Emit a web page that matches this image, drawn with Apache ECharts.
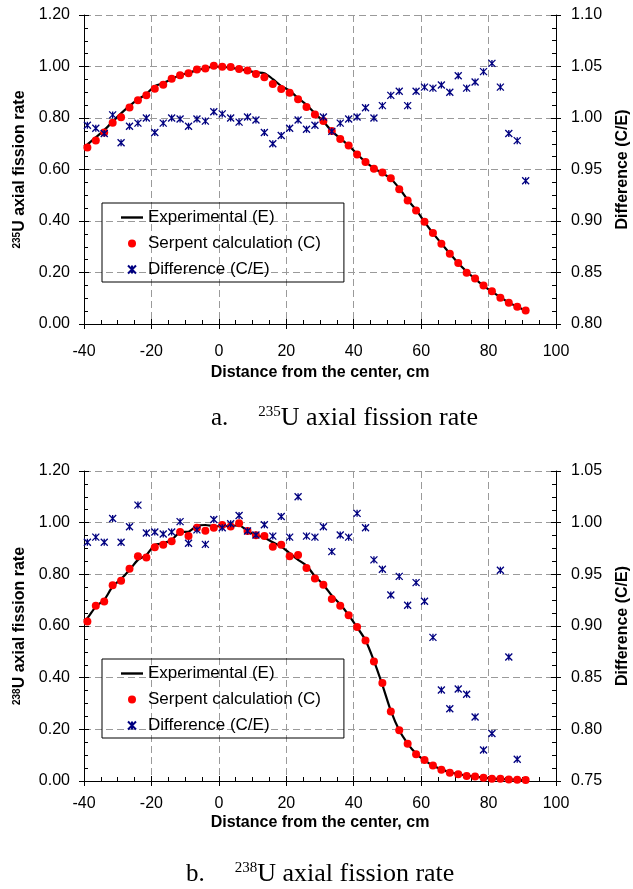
<!DOCTYPE html>
<html>
<head>
<meta charset="utf-8">
<script src="https://cdn.jsdelivr.net/npm/echarts@6/dist/echarts.min.js"></script>
<style>
  html, body { margin: 0; padding: 0; background: #fff; }
  #chart { width: 633px; height: 889px; }
</style>
</head>
<body>
<div id="chart"></div>
<script>
// positions of the calculated points (cm)
const calcX = [
  -39, -36.5, -34, -31.5, -29, -26.5, -24, -21.5, -19, -16.5,
  -14, -11.5, -9, -6.5, -4, -1.5, 1, 3.5, 6, 8.5,
  11, 13.5, 16, 18.5, 21, 23.5, 26, 28.5, 31, 33.5,
  36, 38.5, 41, 43.5, 46, 48.5, 51, 53.5, 56, 58.5,
  61, 63.5, 66, 68.5, 71, 73.5, 76, 78.5, 81, 83.5,
  86, 88.5, 91
];
// experimental curve sampled at the same points plus the -40 start
const expX = [-40].concat(calcX);

// U-235
const u235Exp = [
  0.689, 0.697, 0.725, 0.753, 0.786, 0.818, 0.847, 0.872, 0.893, 0.924,
  0.935, 0.951, 0.967, 0.975, 0.986, 0.993, 0.999, 0.999, 0.995, 0.990,
  0.984, 0.977, 0.974, 0.951, 0.924, 0.906, 0.877, 0.851, 0.818, 0.786,
  0.749, 0.721, 0.693, 0.660, 0.629, 0.605, 0.586, 0.564, 0.527, 0.482,
  0.443, 0.397, 0.353, 0.313, 0.274, 0.236, 0.204, 0.175, 0.148, 0.126,
  0.104, 0.083, 0.067, 0.052
];
const u235Calc = [
  0.685, 0.713, 0.744, 0.782, 0.803, 0.841, 0.869, 0.888, 0.914, 0.929,
  0.952, 0.966, 0.974, 0.988, 0.992, 1.003, 0.999, 0.998, 0.990, 0.984,
  0.971, 0.958, 0.932, 0.913, 0.898, 0.873, 0.843, 0.814, 0.788, 0.750,
  0.718, 0.693, 0.658, 0.629, 0.603, 0.588, 0.566, 0.523, 0.480, 0.441,
  0.397, 0.353, 0.312, 0.273, 0.237, 0.199, 0.177, 0.150, 0.127, 0.102,
  0.083, 0.067, 0.052
];
const u235Diff = [
  0.993, 0.990, 0.985, 1.003, 0.976, 0.992, 0.995, 1.000, 0.986, 0.995,
  1.000, 0.999, 0.992, 0.999, 0.997, 1.006, 1.004, 1.000, 0.996, 1.001,
  0.998, 0.986, 0.975, 0.983, 0.990, 0.998, 0.989, 0.993, 1.001, 0.987,
  0.995, 0.999, 1.001, 1.010, 1.000, 1.012, 1.022, 1.026, 1.012, 1.026,
  1.030, 1.029, 1.032, 1.025, 1.041, 1.029, 1.035, 1.045, 1.053, 1.030,
  0.985, 0.978, 0.939
];

// U-238
const u238Exp = [
  0.621, 0.630, 0.675, 0.701, 0.753, 0.782, 0.817, 0.856, 0.875, 0.914,
  0.920, 0.933, 0.963, 0.965, 0.987, 0.991, 0.987, 0.986, 0.988, 0.989,
  0.968, 0.952, 0.942, 0.924, 0.907, 0.882, 0.856, 0.834, 0.792, 0.760,
  0.718, 0.684, 0.642, 0.595, 0.545, 0.465, 0.372, 0.272, 0.196, 0.145,
  0.106, 0.080, 0.060, 0.045, 0.034, 0.027, 0.021, 0.017, 0.013, 0.010,
  0.008, 0.006, 0.005, 0.004
];
const u238Calc = [
  0.617, 0.678, 0.695, 0.758, 0.775, 0.822, 0.870, 0.865, 0.905, 0.915,
  0.928, 0.964, 0.948, 0.980, 0.969, 0.980, 0.991, 0.985, 0.998, 0.968,
  0.951, 0.948, 0.907, 0.915, 0.870, 0.875, 0.825, 0.784, 0.760, 0.705,
  0.678, 0.642, 0.596, 0.544, 0.463, 0.379, 0.269, 0.196, 0.144, 0.104,
  0.081, 0.060, 0.044, 0.032, 0.026, 0.019, 0.017, 0.013, 0.009, 0.009,
  0.006, 0.005, 0.004
];
const u238Diff = [
  0.981, 0.986, 0.981, 1.004, 0.981, 0.996, 1.017, 0.990, 0.991, 0.989,
  0.991, 1.001, 0.980, 0.993, 0.979, 1.003, 0.995, 0.999, 1.007, 0.992,
  0.988, 0.998, 0.987, 1.006, 0.986, 1.025, 0.987, 0.986, 0.996, 0.972,
  0.988, 0.986, 1.009, 0.995, 0.964, 0.955, 0.930, 0.948, 0.920, 0.942,
  0.924, 0.889, 0.838, 0.820, 0.839, 0.834, 0.812, 0.780, 0.796, 0.954,
  0.870, 0.771, null
];

const seriesNames = ['Experimental (E)', 'Serpent calculation (C)', 'Difference (C/E)'];

const FONT = '"Liberation Sans", Arial, sans-serif';
const SERIF = '"Liberation Serif", "Times New Roman", serif';
const STAR = 'path://M0,0L10,10M10,0L0,10M5,0L5,10';
const LINE_ICON = 'path://M0,0L22,0L22,2.4L0,2.4Z';

const pairs = (xs, ys) => xs.map((x, i) => [x, ys[i]]);

const dashed = { color: '#9a9a9a', type: [7, 4], width: 1 };
const black = { color: '#000', width: 1 };
const tickFont = { fontFamily: FONT, fontSize: 16, color: '#000' };
const nameFont = { fontFamily: FONT, fontSize: 16, fontWeight: 'bold', color: '#000' };

// main axis draws inward ticks + minor ticks, the overlay one draws the outward half
function overlayAxis(base) {
  return Object.assign({}, base, {
    name: '',
    axisLine: { show: false, onZero: false },
    axisTick: { inside: false, length: 5, lineStyle: black },
    minorTick: { show: false },
    axisLabel: { show: false },
    splitLine: { show: false }
  });
}

function makeXAxes(g, labelMargin, nameGap) {
  const base = { gridIndex: g, type: 'value', position: 'bottom', min: -40, max: 100, interval: 20 };
  return [
    Object.assign({}, base, {
      name: 'Distance from the center, cm',
      nameLocation: 'middle',
      nameGap: nameGap,
      nameTextStyle: nameFont,
      axisLine: { onZero: false, lineStyle: black },
      axisTick: { inside: true, length: 5, lineStyle: black },
      minorTick: { show: true, splitNumber: 4, length: 4, lineStyle: black },
      axisLabel: Object.assign({ margin: labelMargin }, tickFont),
      splitLine: { show: true, showMinLine: false, showMaxLine: false, lineStyle: dashed }
    }),
    overlayAxis(base)
  ];
}

function makeYAxes(g, iso, rMin, rMax) {
  const left = { gridIndex: g, type: 'value', position: 'left', min: 0, max: 1.2, interval: 0.2 };
  const right = { gridIndex: g, type: 'value', position: 'right', min: rMin, max: rMax, interval: 0.05 };
  return [
    Object.assign({}, left, {
      name: '{sup|' + iso + '}U axial fission rate',
      nameLocation: 'middle',
      nameGap: 47,
      nameRotate: 90,
      nameTextStyle: Object.assign({
        rich: { sup: { fontFamily: FONT, fontSize: 10, fontWeight: 'bold', verticalAlign: 'top' } }
      }, nameFont),
      axisLine: { show: true, onZero: false, lineStyle: black },
      axisTick: { inside: true, length: 5, lineStyle: black },
      minorTick: { show: true, splitNumber: 4, length: 4, lineStyle: black },
      axisLabel: Object.assign({ margin: 14, formatter: v => v.toFixed(2) }, tickFont),
      splitLine: { show: true, showMinLine: false, showMaxLine: true, lineStyle: dashed }
    }),
    overlayAxis(left),
    Object.assign({}, right, {
      name: 'Difference (C/E)',
      nameLocation: 'middle',
      nameGap: 59,
      nameRotate: 90,
      nameTextStyle: nameFont,
      axisLine: { show: true, onZero: false, lineStyle: black },
      axisTick: { inside: true, length: 5, lineStyle: black },
      minorTick: { show: true, splitNumber: 4, length: 4, lineStyle: black },
      axisLabel: Object.assign({ margin: 15, formatter: v => v.toFixed(2) }, tickFont),
      splitLine: { show: false }
    }),
    overlayAxis(right)
  ];
}

function makeSeries(g, exp, calc, diff) {
  return [
    {
      name: seriesNames[0], type: 'line', xAxisIndex: 2 * g, yAxisIndex: 4 * g,
      data: pairs(expX, exp), symbol: 'none', smooth: 0.25,
      lineStyle: { color: '#000', width: 2.2 }, itemStyle: { color: '#000' },
      z: 2, animation: false
    },
    {
      name: seriesNames[1], type: 'scatter', xAxisIndex: 2 * g, yAxisIndex: 4 * g,
      data: pairs(calcX, calc), symbol: 'circle', symbolSize: 8,
      itemStyle: { color: '#ff0000', opacity: 1 }, z: 3, animation: false
    },
    {
      name: seriesNames[2], type: 'scatter', xAxisIndex: 2 * g, yAxisIndex: 4 * g + 2,
      data: pairs(calcX, diff).filter(p => p[1] !== null), symbol: STAR, symbolSize: 7,
      itemStyle: { color: 'rgba(0,0,0,0)', borderColor: '#000080', borderWidth: 1.3, opacity: 1 },
      z: 4, animation: false
    }
  ];
}

function makeLegend(top) {
  return {
    orient: 'vertical', left: 102, top: top,
    padding: [6, 23, 4, 19], itemGap: 9, itemWidth: 22, itemHeight: 8,
    borderColor: '#000', borderWidth: 1, borderRadius: 0,
    selectedMode: false,
    textStyle: { fontFamily: FONT, fontSize: 17, color: '#000' },
    data: [
      { name: seriesNames[0], icon: LINE_ICON, itemStyle: { color: '#000' } },
      seriesNames[1],
      seriesNames[2]
    ]
  };
}

function caption(letter, iso, left, top) {
  return {
    type: 'text', left: left, top: top,
    style: {
      text: '{a|' + letter + '.}{gap|}{s|' + iso + '}{t|U axial fission rate}',
      fill: '#000',
      rich: {
        a: { fontFamily: SERIF, fontSize: 25, fill: '#000' },
        gap: { width: 30 },
        s: { fontFamily: SERIF, fontSize: 15, fill: '#000', verticalAlign: 'top' },
        t: { fontFamily: SERIF, fontSize: 26, fill: '#000' }
      }
    }
  };
}

const chart = echarts.init(document.getElementById('chart'), null, { renderer: 'canvas' });
chart.setOption({
  animation: false,
  backgroundColor: '#fff',
  grid: [
    { left: 84, top: 15, width: 472, height: 309, outerBoundsMode: 'none', containLabel: false },
    { left: 84, top: 471, width: 472, height: 310, outerBoundsMode: 'none', containLabel: false }
  ],
  xAxis: makeXAxes(0, 20, 41).concat(makeXAxes(1, 15, 34)),
  yAxis: makeYAxes(0, '235', 0.8, 1.1).concat(makeYAxes(1, '238', 0.75, 1.05)),
  legend: [makeLegend(203), makeLegend(659)],
  series: makeSeries(0, u235Exp, u235Calc, u235Diff).concat(makeSeries(1, u238Exp, u238Calc, u238Diff)),
  graphic: [caption('a', '235', 211, 405), caption('b', '238', 186, 861)]
});
</script>
</body>
</html>
